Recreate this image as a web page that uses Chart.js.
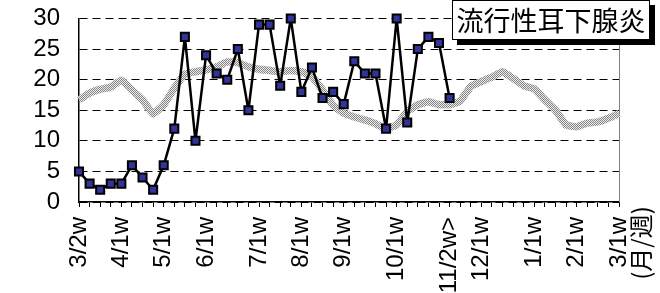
<!DOCTYPE html>
<html><head><meta charset="utf-8">
<script src="https://cdn.jsdelivr.net/npm/chart.js@4/dist/chart.umd.min.js"></script>
<style>html,body{margin:0;padding:0;background:#fff;}canvas{display:block;}</style>
</head><body>
<canvas id="c" width="660" height="293"></canvas>
<script>
// x-axis week labels (52 weeks, blank where no label is printed)
const weekLabels = ['3/2w','','','','4/1w','','','','5/1w','','','','6/1w','','','','','7/1w','','','','8/1w','','','','9/1w','','','','','10/1w','','','','','11/2w>','','','12/1w','','','','','1/1w','','','','2/1w','','','','3/1w'];
// reported cases this season (weekly)
const cases = [5,3,2,3,3,6,4,2,6,12,27,10,24,21,20,25,15,29,29,19,30,18,22,17,18,16,23,21,21,12,30,13,25,27,26,17];
// reference level (grey stippled band)
const baseline = [16.7,17.8,18.4,18.8,19.9,18.3,16.7,14.4,15.9,18.6,20.9,21.3,21.6,22.1,22.9,22.8,22.1,21.7,21.5,21.3,21.5,21.3,20.5,18.3,15.8,14.5,13.9,13.4,12.8,12.0,12.6,14.8,15.9,16.4,15.9,15.9,16.5,18.9,19.7,20.4,21.3,20.2,19.0,18.5,16.7,15.0,12.6,12.3,12.9,13.1,13.7,14.5];
const yTicks = [0,5,10,15,20,25,30];
const titleText = '流行性耳下腺炎';
const unitText = '(月/週)';

// stipple pattern for the band
const pc = document.createElement('canvas'); pc.width = 2; pc.height = 2;
const pctx = pc.getContext('2d');
pctx.fillStyle = '#ececec'; pctx.fillRect(0,0,2,2);
pctx.fillStyle = '#858585'; pctx.fillRect(0,0,1,1); pctx.fillRect(1,1,1,1);
const stipple = pctx.createPattern(pc, 'repeat');

const decor = {
  id: 'decor',
  beforeDatasetsDraw(chart) {
    const {ctx, chartArea: a} = chart;
    ctx.save();
    ctx.strokeStyle = '#808080'; ctx.lineWidth = 1;
    ctx.beginPath();
    ctx.moveTo(a.right + 0.5, a.top);
    ctx.lineTo(a.right + 0.5, a.bottom);
    ctx.stroke();
    ctx.restore();
  },
  afterDraw(chart) {
    const {ctx} = chart;
    ctx.save();
    // title box with shadow
    const bx = 452, by = 0, bw = 198, bh = 40, sh = 5;
    ctx.fillStyle = '#000';
    ctx.fillRect(bx + sh, by + sh, bw, bh);
    ctx.fillStyle = '#fff';
    ctx.fillRect(bx, by, bw, bh);
    ctx.strokeStyle = '#000'; ctx.lineWidth = 1;
    ctx.strokeRect(bx + 0.5, by + 0.5, bw - 1, bh - 1);
    ctx.fillStyle = '#000';
    ctx.font = '27px "Noto Sans CJK JP"';
    ctx.textAlign = 'center'; ctx.textBaseline = 'middle';
    ctx.fillText(titleText, bx + bw / 2, by + bh / 2 + 1);
    // unit label, vertical
    ctx.translate(641, 243);
    ctx.rotate(-Math.PI / 2);
    ctx.font = '24px "Noto Sans CJK JP"';
    ctx.fillText(unitText, 0, 0);
    ctx.restore();
  }
};

new Chart(document.getElementById('c'), {
  type: 'line',
  data: {
    labels: weekLabels,
    datasets: [
      {
        data: cases,
        borderColor: '#000',
        borderWidth: 2.5,
        borderJoinStyle: 'round',
        pointStyle: 'rect',
        pointRadius: 5.7,
        pointBorderWidth: 2,
        pointBackgroundColor: '#333399',
        pointBorderColor: '#000',
        tension: 0,
        clip: false,
        order: 0
      },
      {
        data: baseline,
        borderColor: stipple,
        borderWidth: 7.5,
        borderJoinStyle: 'round',
        pointRadius: 0,
        tension: 0.1,
        clip: false,
        order: 1
      }
    ]
  },
  options: {
    responsive: false,
    animation: false,
    events: [],
    layout: { padding: { left: 0, top: 18.5, right: 41, bottom: 0 } },
    plugins: { legend: { display: false }, tooltip: { enabled: false } },
    scales: {
      x: {
        offset: false,
        grid: { display: true, drawOnChartArea: false, drawTicks: true, tickLength: 5, color: '#000', lineWidth: 1 },
        border: { display: true, color: '#000', width: 1.5 },
        ticks: { autoSkip: false, minRotation: 90, maxRotation: 90, padding: 10, color: '#000', font: { family: '"Liberation Sans", Arial, sans-serif', size: 24 } },
        afterFit(scale) { scale.height = 91; }
      },
      y: {
        min: 0, max: 30,
        afterBuildTicks(scale) { scale.ticks = yTicks.map(v => ({ value: v })); },
        grid: { display: true, drawTicks: true, tickLength: 16, tickColor: 'rgba(0,0,0,0)', color: '#000', lineWidth: 1 },
        border: { display: true, color: '#000', width: 1.5, dash: [8, 5] },
        ticks: { autoSkip: false, padding: 3, color: '#000', font: { family: '"Liberation Sans", Arial, sans-serif', size: 24 } },
        afterFit(scale) { scale.width = 79; }
      }
    }
  },
  plugins: [decor]
});
</script>
</body></html>
